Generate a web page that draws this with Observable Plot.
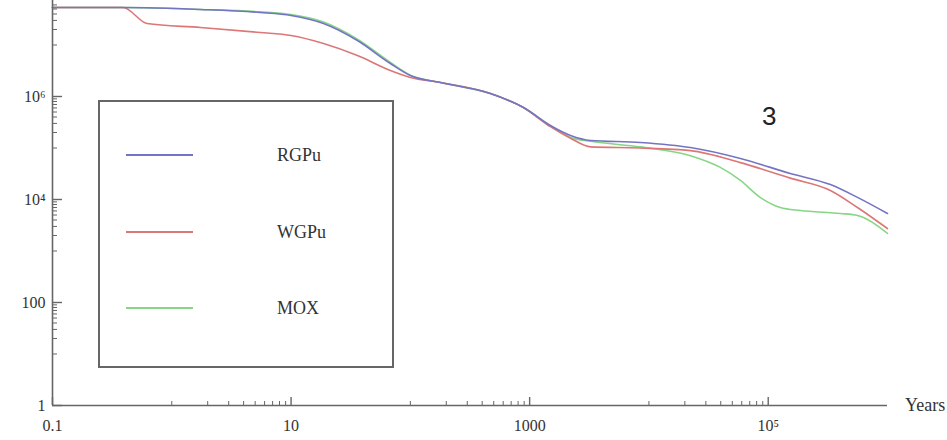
<!DOCTYPE html>
<html>
<head>
<meta charset="utf-8">
<script src="https://cdn.jsdelivr.net/npm/d3@7"></script>
<script src="https://cdn.jsdelivr.net/npm/@observablehq/plot@0.6"></script>
<style>
  html, body { margin: 0; padding: 0; background: #fff; overflow: hidden; }
  #wrap { position: relative; width: 947px; height: 440px; overflow: hidden; }
  #chart { position: absolute; left: 0; top: 0; }
  .ov { position: absolute; font-family: "Liberation Serif", serif; color: #333; white-space: nowrap; }
  #legend { position: absolute; left: 98px; top: 100px; width: 292px; height: 264px; border: 2px solid #666; background: #fff; }
  .sw { position: absolute; left: 26px; width: 67px; height: 0; border-top: 2px solid; }
  .lt { position: absolute; left: 177px; font-family: "Liberation Serif", serif; font-size: 18px; color: #333; transform: translateY(-50%); }
</style>
</head>
<body>
<div id="wrap">
  <div id="chart"></div>
  <div id="legend"></div>
  <div class="ov" style="left:762px; top:101px; font-family:'Liberation Sans', Arial, sans-serif; font-size:26px; color:#222;">3</div>
  <div class="ov" style="left:905px; top:395px; font-size:18px;">Years</div>
</div>
<script>
// ---- data ----
const seriesNames = ["RGPu", "WGPu", "MOX"];
const seriesColors = ["#7474c4", "#dd7676", "#86d686"];

const rgpuYears  = [0.1, 0.39, 1.74, 5.5, 10, 18.7, 36, 68, 100, 179, 469, 887, 1490, 2200, 3240, 8490, 22300, 58500, 153000, 332000, 560000, 1e6];
const rgpuValues = [5.35e7, 5.35e7, 4.9e7, 4.28e7, 3.74e7, 2.61e7, 1.22e7, 4.37e6, 2.56e6, 1.87e6, 1.14e6, 6.1e5, 2.73e5, 1.75e5, 1.4e5, 1.28e5, 1.02e5, 6.25e4, 3.2e4, 1.95e4, 1.1e4, 5350];

const wgpuYears  = [0.1, 0.39, 0.62, 1.74, 5.5, 10, 18.7, 36, 68, 100, 179, 469, 887, 1490, 2200, 3240, 8490, 22300, 58500, 153000, 332000, 560000, 1e6];
const wgpuValues = [5.35e7, 5.35e7, 2.61e7, 2.19e7, 1.75e7, 1.53e7, 1.07e7, 6.25e6, 3.2e6, 2.34e6, 1.87e6, 1.14e6, 6.1e5, 2.6e5, 1.55e5, 1.05e5, 1.0e5, 8.9e4, 5.2e4, 2.6e4, 1.5e4, 7000, 2730];

const moxYears  = [0.1, 0.39, 1.74, 5.5, 10, 18.7, 36, 68, 100, 179, 469, 887, 1490, 2200, 3240, 8490, 22300, 39700, 58500, 86000, 126000, 186000, 403000, 560000, 1e6];
const moxValues = [5.35e7, 5.35e7, 4.9e7, 4.4e7, 3.9e7, 2.8e7, 1.3e7, 4.6e6, 2.6e6, 1.87e6, 1.14e6, 6.1e5, 2.73e5, 1.6e5, 1.35e5, 1.05e5, 7.1e4, 4.2e4, 2.34e4, 1.09e4, 7000, 6100, 5350, 4890, 2190];

const xTickValues = [0.1, 10, 1000, 1e5];
const xTickLabels = ["0.1", "10", "1000", "10⁵"];
const yTickValues = [1, 100, 1e4, 1e6];
const yTickLabels = ["1", "100", "10⁴", "10⁶"];
const minorMultipliers = [1, 2, 3, 4, 5, 6, 7, 8, 9];
const xMinorDecades = [1, 100, 1e4];
const yMinorDecades = [10, 1000, 1e5, 1e7];

// ---- build tables ----
const rows = [];
[[rgpuYears, rgpuValues], [wgpuYears, wgpuValues], [moxYears, moxValues]].forEach(([xs, ys], i) => {
  xs.forEach((x, j) => rows.push({name: seriesNames[i], year: x, value: ys[j]}));
});
const xMinor = xMinorDecades.flatMap(d => minorMultipliers.map(k => k * d));
const yMinor = yMinorDecades.flatMap(d => minorMultipliers.map(k => k * d)).filter(v => v < 7e7);

const W = 947, H = 440, mL = 52, mR = 60, mT = 0, mB = 35;
const plotW = W - mL - mR, plotH = H - mT - mB;
const axisColor = "#666";

const chart = Plot.plot({
  width: W, height: H,
  marginLeft: mL, marginRight: mR, marginTop: mT, marginBottom: mB,
  x: {type: "log", domain: [0.1, 1e6]},
  y: {type: "log", domain: [1, Math.pow(10, 7.864)]},
  color: {domain: seriesNames, range: seriesColors},
  style: {fontFamily: "Liberation Serif, serif", fontSize: "16px", color: "#333", background: "transparent"},
  marks: [
    Plot.line(rows.filter(d => d.name === "MOX"), {x: "year", y: "value", stroke: "name", strokeWidth: 1.6, curve: "monotone-x"}),
    Plot.line(rows.filter(d => d.name === "WGPu"), {x: "year", y: "value", stroke: "name", strokeWidth: 1.6, curve: "monotone-x"}),
    Plot.line(rows.filter(d => d.name === "RGPu"), {x: "year", y: "value", stroke: "name", strokeWidth: 1.6, curve: "monotone-x"}),
    Plot.ruleX([0.1], {stroke: axisColor, strokeWidth: 1.6}),
    Plot.ruleY([1], {stroke: axisColor, strokeWidth: 1.6}),
    Plot.tickX(xTickValues, {x: d => d, stroke: axisColor, strokeWidth: 1.4, insetTop: plotH - 8}),
    Plot.tickX(xMinor, {x: d => d, stroke: axisColor, strokeWidth: 1, insetTop: plotH - 4}),
    Plot.tickY(yTickValues, {y: d => d, stroke: axisColor, strokeWidth: 1.4, insetRight: plotW - 10}),
    Plot.tickY(yMinor, {y: d => d, stroke: axisColor, strokeWidth: 1, insetRight: plotW - 5}),
    Plot.axisX(xTickValues, {tickSize: 0, tickPadding: 14, tickFormat: (d) => xTickLabels[xTickValues.indexOf(d)], label: null, fill: "#333"}),
    Plot.axisY(yTickValues, {tickSize: 0, tickPadding: 7, tickFormat: (d) => yTickLabels[yTickValues.indexOf(d)], label: null, fill: "#333"})
  ]
});
document.getElementById("chart").appendChild(chart);

// ---- legend ----
const legend = document.getElementById("legend");
const legendTops = [53, 130, 206];
seriesNames.forEach((n, i) => {
  const sw = document.createElement("div");
  sw.className = "sw";
  sw.style.top = (legendTops[i] - 1) + "px";
  sw.style.borderTopColor = seriesColors[i];
  legend.appendChild(sw);
  const t = document.createElement("div");
  t.className = "lt";
  t.style.top = legendTops[i] + "px";
  t.textContent = n;
  legend.appendChild(t);
});
</script>
</body>
</html>
